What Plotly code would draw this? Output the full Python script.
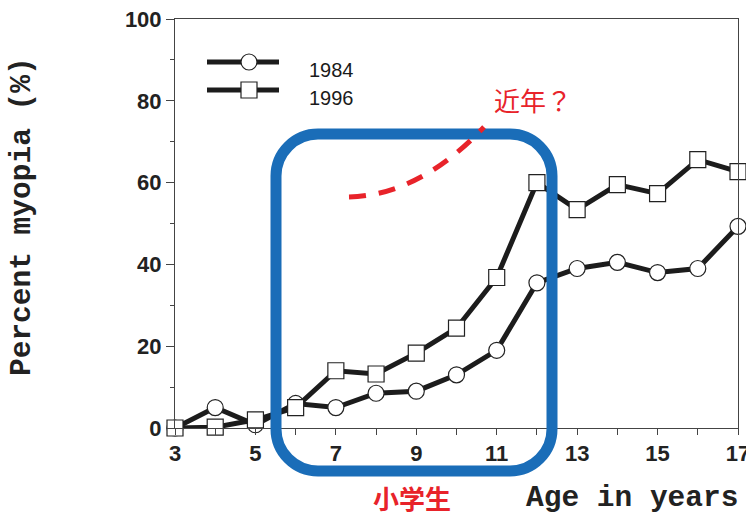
import plotly.graph_objects as go

ages = [3, 4, 5, 6, 7, 8, 9, 10, 11, 12, 13, 14, 15, 16, 17]
myopia_1984 = [0, 5, 0.8, 6, 5, 8.5, 9, 13, 19, 35.5, 39, 40.5, 38, 39, 49.3]
myopia_1996 = [0, 0.2, 2, 5, 14, 13.2, 18.3, 24.4, 36.8, 60, 53.4, 59.5, 57.3, 65.6, 62.7]
series_names = ["1984", "1996"]
x_ticks = [3, 5, 7, 9, 11, 13, 15, 17]
y_ticks = [0, 20, 40, 60, 80, 100]

W, H = 746, 513
L, R, T, B = 175, 8, 19, 85
PW, PH = W - L - R, H - T - B


def px(x):
    return (x - L) / PW


def py(y):
    return (H - B - y) / PH


line_col = "#1c1c1c"
fig = go.Figure()
fig.add_trace(go.Scatter(
    x=ages, y=myopia_1984, mode="lines+markers", name=series_names[0],
    line=dict(color=line_col, width=5),
    marker=dict(symbol="circle", size=16, color="white", line=dict(color="#222", width=1.2)),
    cliponaxis=False, showlegend=False))
fig.add_trace(go.Scatter(
    x=ages, y=myopia_1996, mode="lines+markers", name=series_names[1],
    line=dict(color=line_col, width=5),
    marker=dict(symbol="square", size=16, color="white", line=dict(color="#222", width=1.2)),
    cliponaxis=False, showlegend=False))

shapes = []
# legend samples
for i, (ly, sym) in enumerate([(62, "circle"), (90, "rect")]):
    shapes.append(dict(type="line", xref="paper", yref="paper",
                       x0=px(207), x1=px(279), y0=py(ly), y1=py(ly),
                       line=dict(color=line_col, width=5)))
    shapes.append(dict(type=sym, xref="paper", yref="paper",
                       x0=px(249 - 8), x1=px(249 + 8), y0=py(ly - 8), y1=py(ly + 8),
                       fillcolor="white", line=dict(color="#222", width=1.2)))

# blue rounded box
xl, xr, yt, yb = 276, 552, 134, 471
r = 42
k = 0.552 * r
pts = [
    f"M {px(xl)},{py(yt + r)}",
    f"L {px(xl)},{py(yb - r)}",
    f"C {px(xl)},{py(yb - r + k)} {px(xl + r - k)},{py(yb)} {px(xl + r)},{py(yb)}",
    f"L {px(xr - r)},{py(yb)}",
    f"C {px(xr - r + k)},{py(yb)} {px(xr)},{py(yb - r + k)} {px(xr)},{py(yb - r)}",
    f"L {px(xr)},{py(yt + r)}",
    f"C {px(xr)},{py(yt + r - k)} {px(xr - r + k)},{py(yt)} {px(xr - r)},{py(yt)}",
    f"L {px(xl + r)},{py(yt)}",
    f"C {px(xl + r - k)},{py(yt)} {px(xl)},{py(yt + r - k)} {px(xl)},{py(yt + r)}",
    "Z",
]
shapes.append(dict(type="path", xref="paper", yref="paper", path=" ".join(pts),
                   line=dict(color="#1a6db8", width=11), layer="above"))

# red dashed curve
shapes.append(dict(type="path", xref="paper", yref="paper",
                   path=f"M {px(349)},{py(197)} Q {px(420)},{py(195)} {px(484)},{py(127)}",
                   line=dict(color="#e8232a", width=5, dash="17px,13px"), layer="above"))

mono = "Liberation Mono"
annotations = [
    dict(text=series_names[0], xref="paper", yref="paper", x=px(307), y=py(70),
         xanchor="left", yanchor="middle", showarrow=False,
         font=dict(family="Liberation Sans", size=20, color="#1a1a1a")),
    dict(text=series_names[1], xref="paper", yref="paper", x=px(307), y=py(98),
         xanchor="left", yanchor="middle", showarrow=False,
         font=dict(family="Liberation Sans", size=20, color="#1a1a1a")),
    dict(text="<b>Percent myopia (%)</b>", xref="paper", yref="paper", x=px(22), y=py(217),
         xanchor="center", yanchor="middle", textangle=-90, showarrow=False,
         font=dict(family=mono, size=29.5, color="#222")),
    dict(text="<b>Age in years</b>", xref="paper", yref="paper", x=px(632), y=py(498),
         xanchor="center", yanchor="middle", showarrow=False,
         font=dict(family=mono, size=29.5, color="#222")),
    dict(text="近年？", xref="paper", yref="paper", x=px(492), y=py(100),
         xanchor="left", yanchor="middle", showarrow=False,
         font=dict(family="Noto Sans CJK JP", size=26, color="#e8232a")),
    dict(text="<b>小学生</b>", xref="paper", yref="paper", x=px(412), y=py(497),
         xanchor="center", yanchor="middle", showarrow=False,
         font=dict(family="Noto Sans CJK JP", size=26, color="#e8232a")),
]

tick_font = dict(family="Liberation Sans", size=22, color="#222", weight="bold")
fig.update_layout(
    width=W, height=H, margin=dict(l=L, r=R, t=T, b=B, pad=0, autoexpand=False),
    paper_bgcolor="white", plot_bgcolor="white",
    shapes=shapes, annotations=annotations, showlegend=False,
    xaxis=dict(range=[3, 17], tickvals=x_ticks, ticks="outside", ticklen=6, tickwidth=1,
               tickcolor="#444", showgrid=False, zeroline=False, showline=True,
               linecolor="#444", linewidth=1, mirror=True, ticklabeloverflow="allow",
               automargin=False,
               minor=dict(dtick=1, tick0=3, ticks="outside", ticklen=6, tickcolor="#444", showgrid=False),
               tickfont=tick_font),
    yaxis=dict(range=[0, 100], tickvals=y_ticks, ticks="outside", ticklen=8, tickwidth=1,
               tickcolor="#444", showgrid=False, zeroline=False, showline=True,
               linecolor="#444", linewidth=1, mirror=True, ticklabeloverflow="allow",
               automargin=False,
               minor=dict(dtick=10, tick0=0, ticks="outside", ticklen=4, tickcolor="#444", showgrid=False),
               tickfont=tick_font),
)

fig.write_html("out.html")
